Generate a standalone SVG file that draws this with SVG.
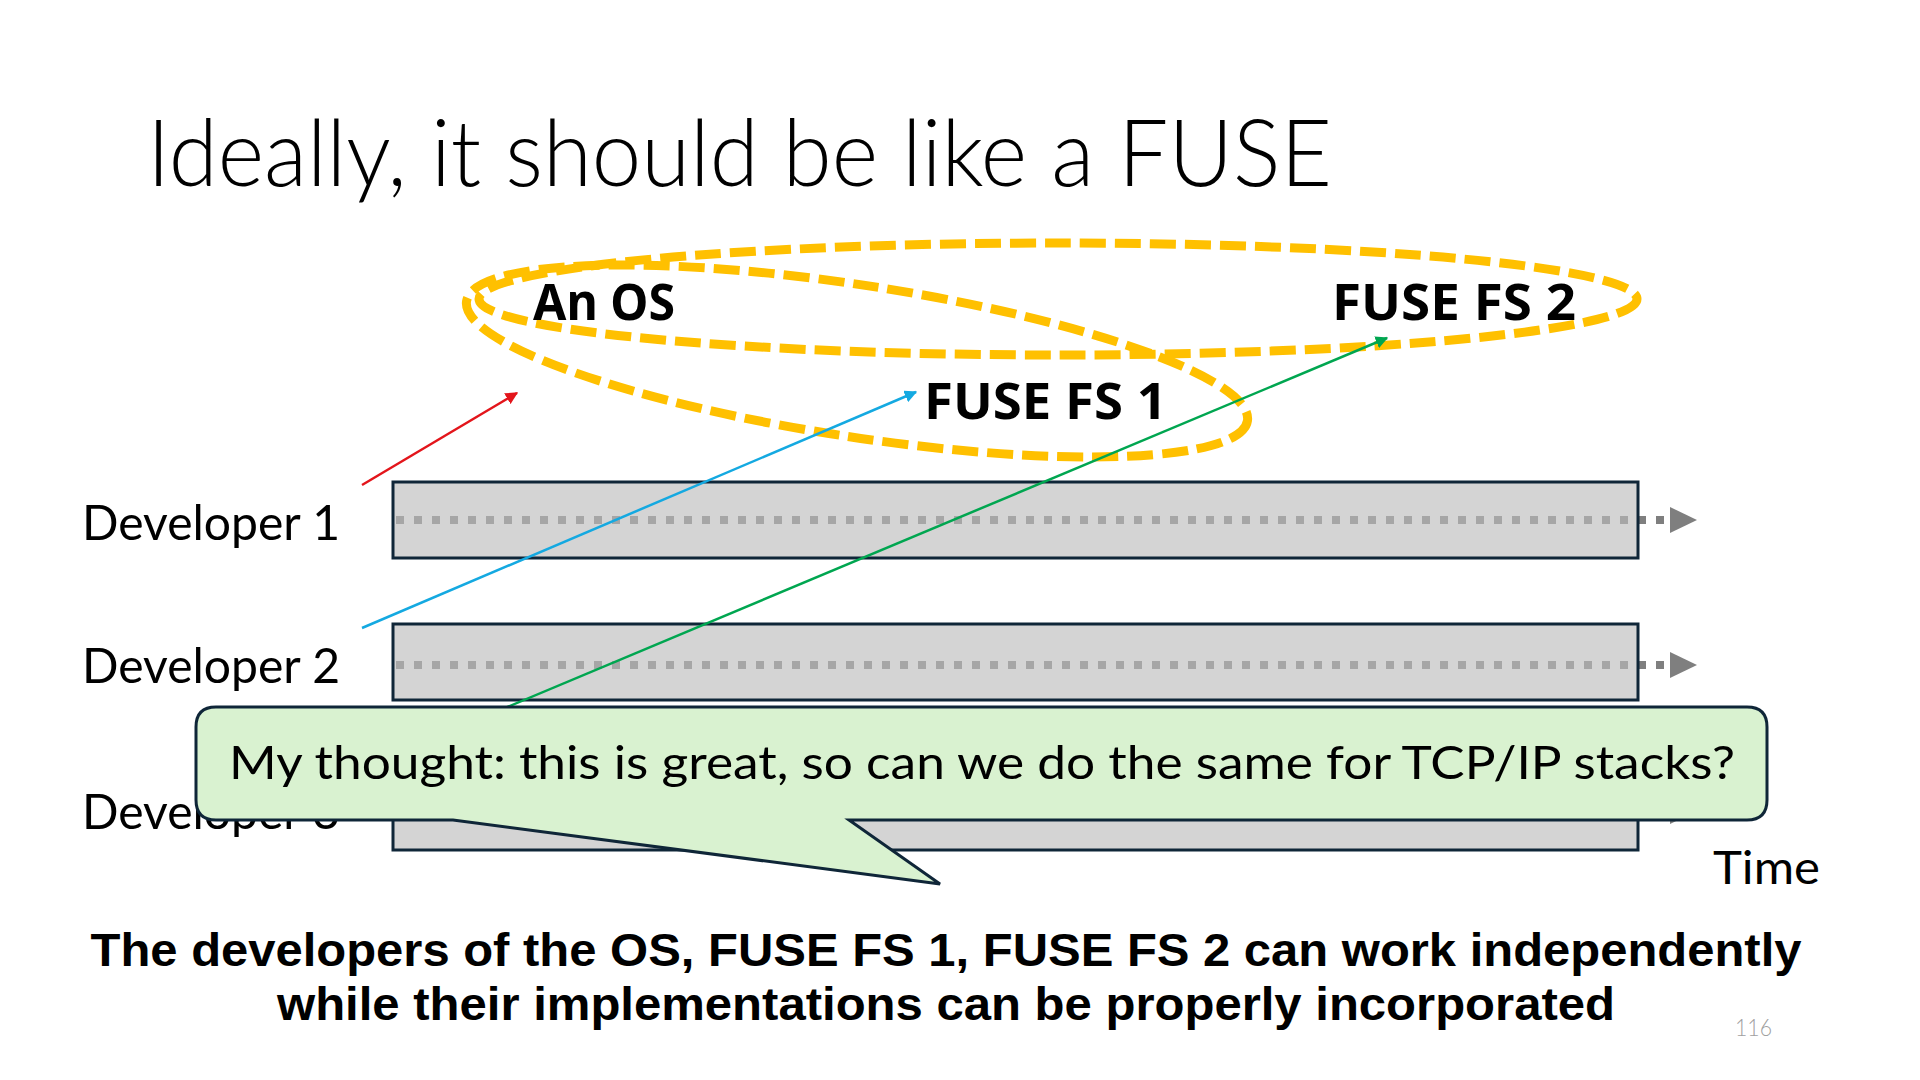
<svg xmlns="http://www.w3.org/2000/svg" width="1920" height="1080" viewBox="0 0 1920 1080">
<defs>
<style>
.light{font-family:Lato,"Noto Sans","Liberation Sans",sans-serif;font-weight:300;fill:#000}
.reg{font-family:Lato,"Noto Sans","Liberation Sans",sans-serif;font-weight:400;fill:#000}
.bold{font-family:"Noto Sans","Liberation Sans",sans-serif;font-weight:700;fill:#000}
.concl{font-family:"Liberation Sans",Arial,sans-serif;font-weight:700;fill:#000}
.ring{fill:none;stroke:#FFC000;stroke-width:9;stroke-dasharray:26 9}
.bar{fill:#BCBCBC;fill-opacity:0.64;stroke:#0F2638;stroke-width:3}
.time{stroke:#7F7F7F;stroke-width:8;stroke-dasharray:8 10;fill:none}
.timehead{fill:#7F7F7F}
.conn{fill:none;stroke-width:2.5}
</style>
<marker id="ahRed" viewBox="0 0 10 10" refX="9" refY="5" markerWidth="5" markerHeight="5" orient="auto" markerUnits="strokeWidth"><path d="M0,0 L10,5 L0,10 z" fill="#E3151B"/></marker>
<marker id="ahBlue" viewBox="0 0 10 10" refX="9" refY="5" markerWidth="5" markerHeight="5" orient="auto" markerUnits="strokeWidth"><path d="M0,0 L10,5 L0,10 z" fill="#14A9E1"/></marker>
<marker id="ahGreen" viewBox="0 0 10 10" refX="9" refY="5" markerWidth="5" markerHeight="5" orient="auto" markerUnits="strokeWidth"><path d="M0,0 L10,5 L0,10 z" fill="#00A650"/></marker>
</defs>
<rect width="1920" height="1080" fill="#FFFFFF"/>

<text id="title" class="light" x="147" y="186" font-size="92" textLength="1185" lengthAdjust="spacingAndGlyphs">Ideally, it should be like a FUSE</text>

<g id="groups">
<ellipse class="ring" cx="1058" cy="299" rx="579" ry="56"/>
<ellipse class="ring" cx="857" cy="361" rx="395" ry="76" transform="rotate(8.7 857 361)"/>
</g>

<g id="node-os"><text class="bold" x="533" y="320" font-size="50" textLength="142" lengthAdjust="spacingAndGlyphs">An OS</text></g>
<g id="node-fs1"><text class="bold" x="924" y="419" font-size="50" textLength="243" lengthAdjust="spacingAndGlyphs">FUSE FS 1</text></g>
<g id="node-fs2"><text class="bold" x="1332" y="320" font-size="50" textLength="244" lengthAdjust="spacingAndGlyphs">FUSE FS 2</text></g>

<g id="dev1">
<text class="reg" x="82" y="540" font-size="48" textLength="258" lengthAdjust="spacingAndGlyphs">Developer 1</text>
<line class="time" x1="396" y1="520" x2="1670" y2="520"/>
<polygon class="timehead" points="1670,507 1697,520 1670,533"/>
<rect class="bar" x="393" y="482" width="1245" height="76"/>
</g>
<g id="dev2">
<text class="reg" x="82" y="683" font-size="48" textLength="258" lengthAdjust="spacingAndGlyphs">Developer 2</text>
<line class="time" x1="396" y1="665" x2="1670" y2="665"/>
<polygon class="timehead" points="1670,652 1697,665 1670,678"/>
<rect class="bar" x="393" y="624" width="1245" height="76"/>
</g>
<g id="dev3">
<text class="reg" x="82" y="829" font-size="48" textLength="258" lengthAdjust="spacingAndGlyphs">Developer 3</text>
<line class="time" x1="396" y1="811" x2="1670" y2="811"/>
<polygon class="timehead" points="1670,798 1697,811 1670,824"/>
<rect class="bar" x="393" y="773" width="1245" height="77"/>
</g>

<g id="connectors">
<line class="conn" stroke="#E3151B" x1="362" y1="485" x2="517" y2="393" marker-end="url(#ahRed)"/>
<line class="conn" stroke="#14A9E1" x1="362" y1="628" x2="916" y2="392" marker-end="url(#ahBlue)"/>
<line class="conn" stroke="#00A650" x1="362" y1="768" x2="1387" y2="338" marker-end="url(#ahGreen)"/>
</g>

<text id="time-label" class="reg" x="1713" y="884" font-size="46" textLength="107" lengthAdjust="spacingAndGlyphs">Time</text>

<g id="callout">
<path d="M216,707 H1747 Q1767,707 1767,727 V800 Q1767,820 1747,820 H849 L940,884 L453,820 H216 Q196,820 196,800 V727 Q196,707 216,707 Z" fill="#D9F2D0" stroke="#0F2638" stroke-width="3" stroke-linejoin="miter"/>
<text class="reg" x="229" y="779" font-size="46" textLength="1506" lengthAdjust="spacingAndGlyphs">My thought: this is great, so can we do the same for TCP/IP stacks?</text>
</g>

<g id="conclusion">
<text class="concl" x="946" y="966" font-size="46" text-anchor="middle" textLength="1711" lengthAdjust="spacingAndGlyphs">The developers of the OS, FUSE FS 1, FUSE FS 2 can work independently</text>
<text class="concl" x="946" y="1020" font-size="46" text-anchor="middle" textLength="1338" lengthAdjust="spacingAndGlyphs">while their implementations can be properly incorporated</text>
</g>

<text id="page" x="1735" y="1036" font-family="Lato,'Liberation Sans',sans-serif" font-weight="300" font-size="24" fill="#A0A0A0" textLength="37" lengthAdjust="spacingAndGlyphs">116</text>
</svg>
